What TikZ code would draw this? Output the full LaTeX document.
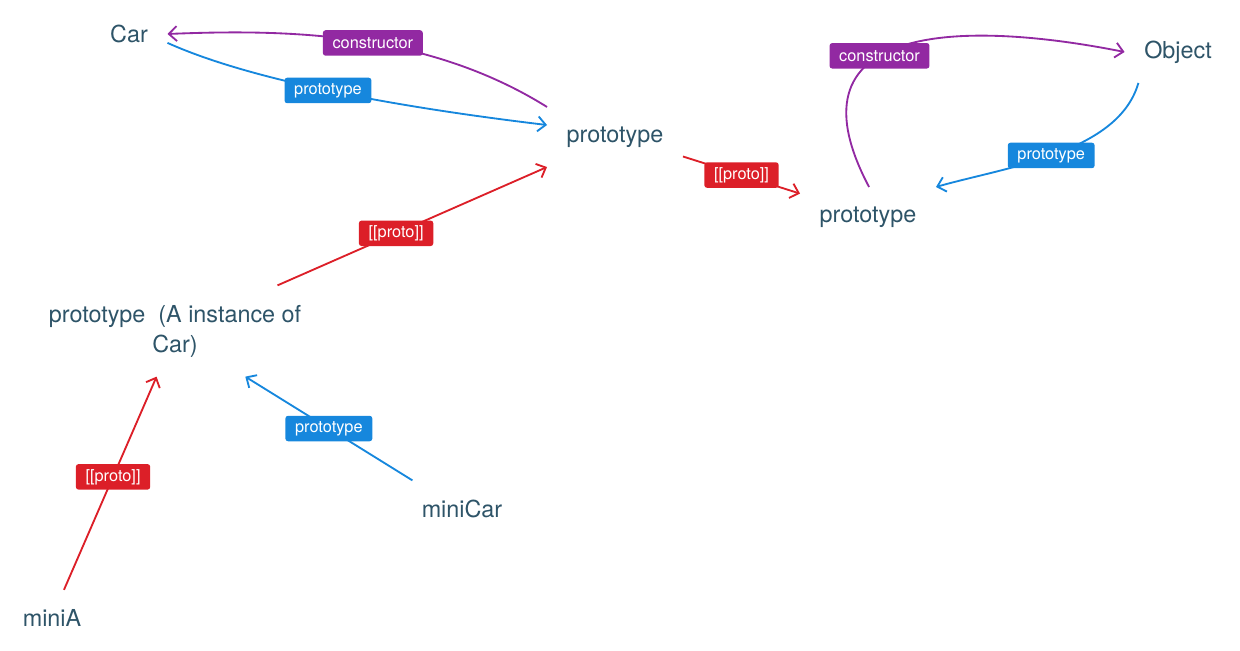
\documentclass[tikz,border=0pt]{standalone}
\usepackage{fontspec}
\setmainfont{TeX Gyre Heros}
\usetikzlibrary{arrows.meta}
\definecolor{inkc}{RGB}{46,84,104}
\definecolor{ctorc}{RGB}{146,41,162}
\definecolor{protoc}{RGB}{22,135,221}
\definecolor{linkc}{RGB}{220,31,40}

\begin{document}
\begin{tikzpicture}[x=0.02cm,y=-0.02cm,
  obj/.style={text=inkc,font=\fontsize{13.3}{17}\selectfont,inner sep=11pt,align=center},
  tag/.style={fill=#1,text=white,font=\fontsize{9.3}{11}\selectfont,rounded corners=1.5pt,inner xsep=5.5pt,inner ysep=0pt,minimum height=14.5pt},
  link/.style={#1,line width=1.05pt,-{Straight Barb[length=4.5pt,width=8.5pt]}}]
\useasboundingbox (0,0) rectangle (1240,650);

\node[obj] (car) at (129,34) {Car};
\node[obj] (proto1) at (615,137) {prototype};
\node[obj] (proto2) at (868,217) {prototype};
\node[obj] (object) at (1178,52) {Object};
\node[obj] (protoA) at (175,331) {prototype\ \ (A instance of\\Car)};
\node[obj] (miniCar) at (462,509) {miniCar};
\node[obj] (miniA) at (52,618) {miniA};

\draw[link=ctorc] (proto1.north west) .. controls +(-120,-75) and +(120,-5) .. (car.east)
  node[tag=ctorc,pos=0.46] (ctor1) {constructor};
\draw[link=protoc] (car.-13) .. controls +(100,45) and +(-100,-12) .. (proto1.170)
  node[tag=protoc,pos=0.43] (pr1) {prototype};
\draw[link=linkc] (protoA.24) -- node[tag=linkc,pos=0.44] (pk1) {[[proto]]} (proto1.south west);
\draw[link=linkc] (proto1.-16) -- node[tag=linkc] (pk2) {[[proto]]} (proto2.161);
\draw[link=ctorc] (proto2.88) .. controls +(-90,-170) and +(-150,-30) .. (object.west)
  node[tag=ctorc,pos=0.41] (ctor2) {constructor};
\draw[link=protoc] (object.218) .. controls +(-20,70) and +(70,-20) .. (proto2.north east)
  node[tag=protoc,pos=0.52] (pr2) {prototype};
\draw[link=linkc] (miniA.67) -- node[tag=linkc,pos=0.53] (pk3) {[[proto]]} (protoA.248);
\draw[link=protoc] (miniCar.150) -- node[tag=protoc] (pr3) {prototype} (protoA.-33);
\end{tikzpicture}
\end{document}
